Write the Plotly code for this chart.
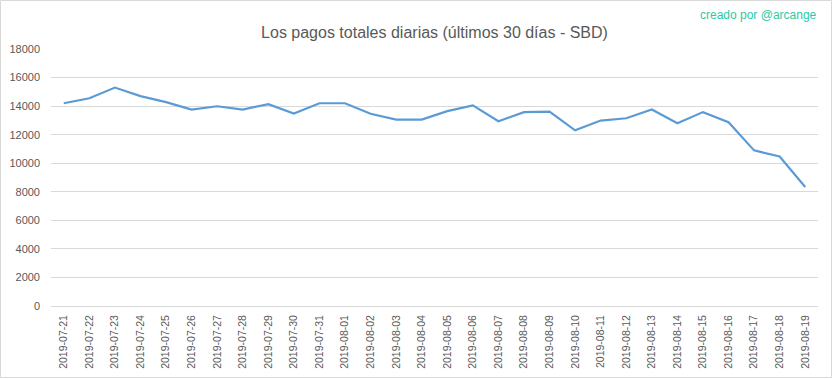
import plotly.graph_objects as go

dates = ["2019-07-21", "2019-07-22", "2019-07-23", "2019-07-24", "2019-07-25",
         "2019-07-26", "2019-07-27", "2019-07-28", "2019-07-29", "2019-07-30",
         "2019-07-31", "2019-08-01", "2019-08-02", "2019-08-03", "2019-08-04",
         "2019-08-05", "2019-08-06", "2019-08-07", "2019-08-08", "2019-08-09",
         "2019-08-10", "2019-08-11", "2019-08-12", "2019-08-13", "2019-08-14",
         "2019-08-15", "2019-08-16", "2019-08-17", "2019-08-18", "2019-08-19"]
payouts = [14200, 14550, 15300, 14700, 14280,
           13760, 13990, 13760, 14140, 13480,
           14200, 14200, 13460, 13060, 13060,
           13650, 14050, 12940, 13580, 13620,
           12300, 12990, 13150, 13760, 12800,
           13580, 12870, 10900, 10470, 8330]
y_ticks = [0, 2000, 4000, 6000, 8000, 10000, 12000, 14000, 16000, 18000]
y_tick_labels = [str(v) for v in y_ticks]

title_text = "Los pagos totales diarias (últimos 30 días - SBD)"
credit_text = "creado por @arcange"

fig = go.Figure()
fig.add_trace(go.Scatter(
    x=dates, y=payouts, mode="lines",
    line=dict(color="#5b9bd5", width=2.2),
    showlegend=False, hoverinfo="x+y",
))

W, H = 833, 379
ml, mr, mt, mb = 51, 15, 49, 73
pw, ph = W - ml - mr, H - mt - mb

def px(x):
    return (x - ml) / pw

def py(y):
    return (H - mb - y) / ph

fig.update_layout(
    width=W, height=H,
    margin=dict(l=ml, r=mr, t=mt, b=mb, pad=0, autoexpand=False),
    paper_bgcolor="white", plot_bgcolor="white",
    font=dict(family="Liberation Sans, Arial, sans-serif", color="#595959", size=11),
    title=dict(text=title_text, x=0.5, xanchor="center", xref="paper",
               y=1 - 32 / H, yanchor="middle",
               font=dict(size=16, color="#595959")),
    xaxis=dict(
        type="category", tickangle=-90, showgrid=False, zeroline=False,
        range=[-0.5, len(dates) - 0.5], automargin=False,
        showline=False, ticks="", tickfont=dict(size=10.5, color="#595959"),
        ticklabelstandoff=6,
    ),
    yaxis=dict(
        range=[0, 18000], tickvals=y_ticks, ticktext=y_tick_labels,
        showgrid=True, gridcolor="#d9d9d9", automargin=False,
        gridwidth=1, zeroline=True, zerolinecolor="#d9d9d9", zerolinewidth=1,
        showline=False, ticks="", tickfont=dict(size=11, color="#595959"),
        ticklabelstandoff=10,
    ),
    annotations=[dict(
        text=credit_text, xref="paper", yref="paper",
        x=px(819), y=py(15), xanchor="right", yanchor="middle",
        showarrow=False, font=dict(size=12, color="#2bcaa6"),
    )],
    shapes=[dict(
        type="rect", xref="paper", yref="paper",
        x0=px(0.5), x1=px(W - 1.5), y0=py(H - 1.5), y1=py(0.5),
        line=dict(color="#d9d9d9", width=1), fillcolor="rgba(0,0,0,0)",
        layer="above",
    )],
)

fig.write_html(
    "out.html",
    config={"displayModeBar": False},
    post_script="document.body.style.margin='0';document.body.style.padding='0';",
)
